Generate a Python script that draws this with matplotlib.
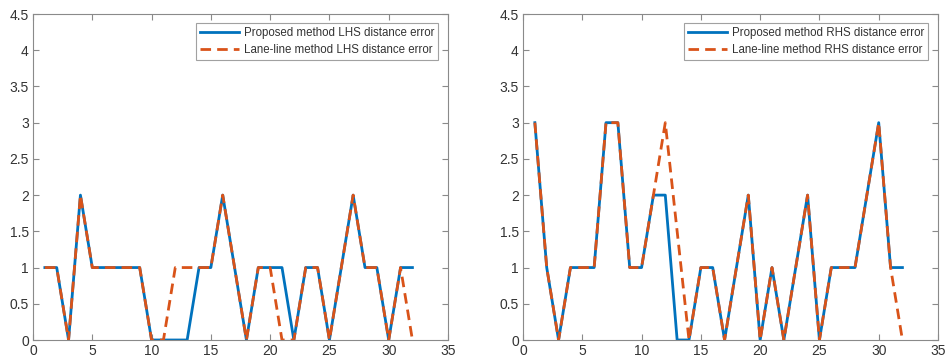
"""Distance error comparison, LHS and RHS"""
import matplotlib
matplotlib.use("Agg")
import matplotlib.pyplot as plt
import numpy as np

plt.rcParams['font.family'] = ['Liberation Sans', 'DejaVu Sans']

frames = list(range(1, 33))

# left hand side errors
lhs_proposed = [1, 1, 0, 2, 1, 1, 1, 1, 1, 0, 0, 0, 0, 1, 1, 2,
                1, 0, 1, 1, 1, 0, 1, 1, 0, 1, 2, 1, 1, 0, 1, 1]
lhs_laneline = [1, 1, 0, 2, 1, 1, 1, 1, 1, 0, 0, 1, 1, 1, 1, 2,
                1, 0, 1, 1, 0, 0, 1, 1, 0, 1, 2, 1, 1, 0, 1, 0]

# right hand side errors
rhs_proposed = [3, 1, 0, 1, 1, 1, 3, 3, 1, 1, 2, 2, 0, 0, 1, 1,
                0, 1, 2, 0, 1, 0, 1, 2, 0, 1, 1, 1, 2, 3, 1, 1]
rhs_laneline = [3, 1, 0, 1, 1, 1, 3, 3, 1, 1, 2, 3, 1.5, 0, 1, 1,
                0, 1, 2, 0, 1, 0, 1, 2, 0, 1, 1, 1, 2, 3, 1, 0]

blue = '#0072BD'
orange = '#D95319'
axcol = '#8a8a8a'
txtcol = '#333333'

fig = plt.figure(figsize=(9.52, 3.64), dpi=100)
ax1 = fig.add_axes([33 / 952, 1 - 340 / 364, 415 / 952, 326 / 364])
ax2 = fig.add_axes([523 / 952, 1 - 340 / 364, 415 / 952, 326 / 364])

panels = [(ax1, lhs_proposed, lhs_laneline, 'LHS'),
          (ax2, rhs_proposed, rhs_laneline, 'RHS')]

for ax, prop, lane, side in panels:
    ax.plot(frames, prop, color=blue, lw=2,
            label='Proposed method %s distance error' % side)
    ax.plot(frames, lane, color=orange, lw=2, ls=(0, (3.8, 2.2)),
            label='Lane-line method %s distance error' % side)

    ax.set_xlim(0, 35)
    ax.set_ylim(0, 4.5)
    ax.set_xticks(np.arange(0, 36, 5))
    ax.set_yticks(np.arange(0, 4.6, 0.5))
    ax.set_yticklabels(['0', '0.5', '1', '1.5', '2', '2.5', '3', '3.5', '4', '4.5'])

    for sp in ax.spines.values():
        sp.set_color(axcol)
        sp.set_linewidth(0.8)
    ax.tick_params(direction='in', top=True, right=True, length=4,
                   width=0.8, color=axcol, labelcolor=txtcol, labelsize=10,
                   pad=3)

    leg = ax.legend(loc='upper right', fontsize=8.3, frameon=True, fancybox=False,
                    edgecolor=axcol, borderpad=0.35, handlelength=3.4,
                    handletextpad=0.4, labelspacing=0.45, borderaxespad=0,
                    bbox_to_anchor=(0.976, 0.972))
    leg.get_frame().set_linewidth(0.8)
    for t in leg.get_texts():
        t.set_color(txtcol)

fig.savefig('out.png', dpi=100)
